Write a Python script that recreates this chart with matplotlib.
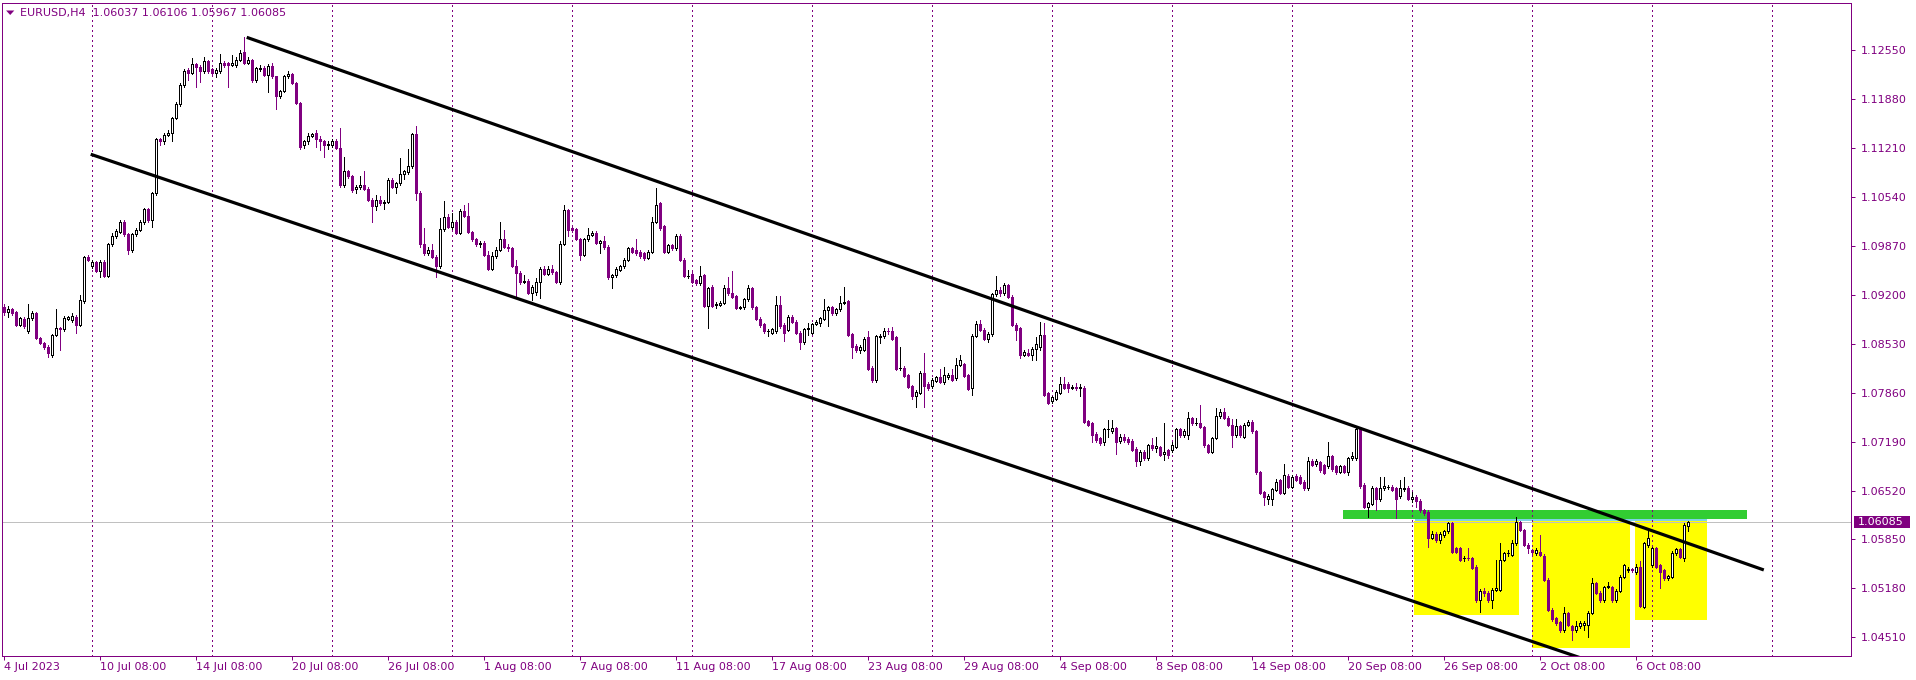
import numpy as np
import matplotlib
matplotlib.use("Agg")
import matplotlib.pyplot as plt
import matplotlib.transforms as mtransforms
from matplotlib.patches import Rectangle, Polygon

plt.rcParams['font.family'] = ['DejaVu Sans']
plt.rcParams['lines.scale_dashes'] = False

# ---------------- data (EURUSD H4, prices as pips above BASE_PRICE) ----------------
BASE_PRICE = 1.04
PIP = 0.0001

opens = [
    503,496,500,496,479,487,471,488,495,461, 454,449,438,465,474,473,487,485,490,479,
    511,572,559,565,553,565,546,589,601,606, 620,603,581,603,609,619,637,622,659,733,
    730,739,741,762,781,807,828,823,836,832, 826,840,829,824,826,838,837,835,835,842,
    853,838,842,814,829,831,821,833,819,792, 799,819,822,810,783,725,730,738,742,733,
    730,725,725,731,721,670,689,682,665,667, 671,665,650,642,650,645,647,677,668,673,
    686,688,696,740,660,590,577,582,572,560, 610,627,613,620,605,635,628,606,596,590,
    591,575,556,573,582,596,586,584,560,550, 538,539,523,524,538,555,549,556,551,538,
    590,636,612,610,597,575,596,602,605,591, 593,586,544,547,554,559,568,584,582,579,
    577,571,579,620,645,614,579,588,584,601, 568,546,549,540,536,547,505,531,506,506,
    509,529,522,518,502,503,514,529,503,487, 480,470,468,470,506,479,472,490,483,468,
    455,473,468,480,481,487,499,503,495,500, 509,511,466,450,444,445,462,420,403,462,
    463,471,471,462,420,420,410,395,381,386, 413,398,395,402,408,400,407,410,406,424,
    425,410,392,464,480,472,459,466,521,526, 522,533,517,479,474,438,440,438,446,448,
    465,385,374,378,386,398,398,393,394,393, 393,347,344,330,324,319,336,333,337,320,
    326,323,320,309,293,305,296,314,310,311, 302,307,307,312,336,328,328,351,344,344,
    339,314,305,324,354,360,352,342,328,340, 326,342,346,333,277,250,240,241,253,266,
    249,272,257,272,270,264,255,293,288,291, 287,285,299,285,278,285,278,296,296,336,
    260,230,234,255,240,255,257,257,255,244, 254,256,241,243,238,225,223,187,193,184,
    191,196,207,173,173,159,160,159,148,102, 115,112,102,116,116,157,166,164,180,209,
    198,178,170,166,168,163,130,89,77,72, 61,84,66,61,66,68,68,85,125,112,
    102,120,120,102,115,134,143,144,140,148, 93,177,150,173,150,143,132,134,166,172,
    159,203.7,
]
highs = [
    507,504,502,498,490,489,508,498,497,462, 455,451,467,500,476,491,491,495,492,520,
    573,574,567,566,567,567,591,604,610,622, 622,604,605,611,622,639,639,661,735,735,
    741,745,764,784,810,829,830,844,838,834, 845,842,831,830,849,840,839,848,845,855,
    873,845,843,832,834,833,836,838,820,801, 821,826,824,812,784,732,741,742,746,737,
    732,730,733,733,748,709,691,684,670,682, 689,667,652,657,655,650,680,680,675,707,
    691,719,742,751,662,611,585,590,574,625, 648,630,632,622,637,643,646,608,598,593,
    593,580,578,585,620,609,590,586,568,552, 547,541,534,543,558,559,560,561,553,593,
    643,638,614,612,598,598,612,607,607,595, 600,588,549,558,561,570,586,586,596,581,
    579,582,627,666,647,616,590,590,603,603, 570,554,551,542,559,549,531,533,510,512,
    534,545,552,520,505,516,534,531,505,489, 482,473,475,518,518,481,492,492,485,470,
    475,481,482,485,490,514,505,505,502,518, 530,513,468,452,451,462,471,422,465,466,
    474,474,476,464,448,422,412,397,389,415, 441,400,406,409,419,421,413,419,433,438,
    427,412,466,484,486,474,469,523,546,530, 536,535,520,481,476,444,446,448,462,483,
    481,387,382,389,408,408,400,396,399,398, 395,349,346,332,326,338,348,349,339,329,
    330,326,322,311,307,307,316,324,326,313, 344,309,318,338,338,336,359,353,351,369,
    341,316,326,365,363,365,354,350,350,342, 344,348,348,335,279,252,247,256,268,268,
    288,274,273,274,273,266,298,295,295,293, 289,319,301,287,287,287,298,305,338,338,
    262,237,258,257,270,270,260,259,257,267, 271,258,250,246,241,227,225,196,195,195,
    198,209,209,175,175,162,173,161,150,117, 118,114,118,157,180,168,170,184,216,211,
    200,180,172,173,191,165,132,91,79,74, 93,86,68,74,73,73,87,132,127,114,
    122,127,122,117,136,152,148,146,152,155, 182,200,175,175,152,145,137,169,174,174,
    207,210.6,
]
lows = [
    492,490,493,477,477,475,468,486,459,452, 446,435,435,463,445,471,485,483,468,477,
    509,566,557,551,545,544,544,587,598,604, 601,576,578,601,607,617,620,613,657,725,
    727,737,730,760,779,805,814,822,805,812, 824,824,820,818,824,832,805,833,832,840,
    836,836,812,812,827,819,797,817,775,790, 797,817,808,781,719,721,727,736,722,718,
    709,720,723,719,668,667,680,661,660,665, 663,648,620,636,643,638,645,666,659,670,
    679,686,694,650,585,574,575,570,545,557, 608,611,610,603,603,626,604,594,587,586,
    573,554,554,571,580,584,580,558,518,535, 536,521,513,520,515,547,547,549,536,535,
    588,600,606,595,568,573,594,600,589,577, 583,542,529,545,552,557,566,577,575,571,
    568,569,577,618,609,577,577,582,582,566, 544,543,536,534,534,503,474,503,502,504,
    507,520,515,500,500,501,512,501,485,476, 468,463,466,468,475,457,470,481,466,446,
    453,465,466,478,477,485,477,493,493,498, 507,463,433,442,441,443,417,401,401,454,
    461,467,458,417,417,407,392,377,367,384, 367,390,393,400,399,398,405,402,403,422,
    407,389,383,462,470,458,455,464,519,518, 520,515,477,458,434,436,436,431,431,444,
    381,370,372,376,384,391,387,391,389,381, 344,340,318,319,315,314,326,331,302,317,
    319,316,306,286,287,294,294,308,305,299, 294,296,305,310,326,326,322,342,342,337,
    312,303,303,322,352,350,340,311,326,326, 324,340,331,275,247,232,234,232,251,247,
    247,255,255,265,261,253,253,285,286,278, 274,283,279,275,276,276,273,294,294,256,
    228,216,232,225,238,253,254,251,214,242, 252,239,236,230,222,218,175,185,182,180,
    189,194,166,166,155,155,157,144,100,86, 108,100,91,114,114,155,163,162,178,196,
    176,166,165,164,162,128,87,74,68,59, 59,66,48,59,64,61,52,83,110,100,
    100,118,100,100,113,132,141,141,138,92, 91,175,148,146,118,130,130,132,164,159,
    155,196.7,
]
closes = [
    496,500,495,479,488,477,488,495,461,454, 449,440,465,474,473,488,489,491,479,513,
    572,568,565,553,565,546,589,601,607,620, 603,581,603,609,619,637,622,659,733,730,
    739,741,762,781,807,827,824,836,832,826, 840,826,824,828,838,835,835,837,842,851,
    838,842,814,830,831,821,833,819,792,799, 819,822,810,783,723,730,738,740,733,730,
    725,727,731,721,670,689,682,663,668,671, 665,650,642,650,645,647,677,668,673,686,
    689,696,740,660,590,577,582,572,560,610, 627,613,620,605,635,628,606,596,590,591,
    575,556,573,582,596,586,584,560,550,538, 539,523,531,538,555,549,556,551,538,590,
    636,609,609,597,575,596,602,604,591,593, 585,545,547,556,559,568,584,579,577,573,
    570,579,620,643,611,579,588,584,601,568, 546,546,538,536,546,505,529,505,508,509,
    529,522,517,502,503,514,529,503,487,478, 470,471,473,506,477,468,490,483,468,455,
    473,474,480,483,488,499,503,495,500,509, 510,465,448,444,448,460,419,403,463,463,
    471,470,460,419,420,409,394,381,387,413, 395,392,403,407,401,410,410,404,424,431,
    409,391,464,480,472,460,467,521,527,522, 533,517,479,472,438,442,438,446,452,465,
    383,372,380,387,398,393,392,394,393,394, 346,342,328,321,317,336,336,337,319,326,
    321,318,308,292,305,296,314,310,313,301, 305,301,315,336,328,334,351,344,344,339,
    314,305,324,354,360,352,342,328,340,328, 342,346,333,277,249,243,245,254,264,249,
    273,257,271,267,263,255,293,287,293,280, 276,299,281,277,285,278,296,299,336,258,
    230,235,255,241,255,258,257,253,241,255, 256,241,243,238,225,221,187,193,184,193,
    196,207,168,168,157,160,159,146,102,115, 112,102,116,118,157,166,167,180,209,198,
    178,173,168,171,164,130,89,76,70,61, 84,68,61,66,71,71,85,125,112,102,
    120,121,102,115,134,150,144,143,147,94, 180,187,173,148,141,132,135,167,172,161,
    205,208.5,
]

# time axis: bar index of labelled ticks and of weekly separators (Monday 00:00)
date_tick_bars = [0, 24, 48, 72, 96, 120, 144, 168, 192, 216, 240, 264, 288, 312, 336, 360, 384, 408]
date_tick_labels = ["4 Jul 2023", "10 Jul 08:00", "14 Jul 08:00", "20 Jul 08:00", "26 Jul 08:00",
                    "1 Aug 08:00", "7 Aug 08:00", "11 Aug 08:00", "17 Aug 08:00", "23 Aug 08:00",
                    "29 Aug 08:00", "4 Sep 08:00", "8 Sep 08:00", "14 Sep 08:00", "20 Sep 08:00",
                    "26 Sep 08:00", "2 Oct 08:00", "6 Oct 08:00"]
week_separator_bars = [22, 52, 82, 112, 142, 172, 202, 232, 262, 292, 322, 352, 382, 412, 442]

price_ticks = [1.12550, 1.11880, 1.11210, 1.10540, 1.09870, 1.09200, 1.08530,
               1.07860, 1.07190, 1.06520, 1.05850, 1.05180, 1.04510]

symbol_title = "EURUSD,H4"
last_bar_ohlc = [1.06037, 1.06106, 1.05967, 1.06085]
bid_price = 1.06085

# drawn objects (bar index, price)
channel_upper = [(60.75, 1.12725), (440.0, 1.05433)]
channel_lower = [(21.75, 1.11124), (400.0, 1.04122)]
green_zone = [(334.8, 1.06126), (435.9, 1.06259)]
blue_strip = [(352.8, 1.06104), (425.8, 1.06140)]
yellow_zones = [
    [(352.6, 1.04818), (378.8, 1.06106)],
    [(382.1, 1.04365), (406.6, 1.06106)],
    [(407.8, 1.04754), (425.8, 1.06106)],
]

# ---------------- style ----------------
PURPLE = '#800080'
GREEN = '#32CD32'
YELLOW = '#FFFF00'
LIGHTBLUE = '#7FD4E6'
PX = 0.72  # one pixel in points at dpi 100

W, H = 1916, 680
fig = plt.figure(figsize=(W / 100, H / 100), dpi=100)
fig.patch.set_facecolor('white')
L_px, R_px, T_px, B_px = 2.4, 1851, 2.7, 656
ax = fig.add_axes([L_px / W, 1 - B_px / H, (R_px - L_px) / W, (B_px - T_px) / H])
ax.set_facecolor('white')
ax.set_xlim(-0.33, 461.8)
ax.set_ylim(1.04255, 1.13199)

for s in ax.spines.values():
    s.set_color(PURPLE)
    s.set_linewidth(PX)

o = BASE_PRICE + np.array(opens, float) * PIP
h = BASE_PRICE + np.array(highs, float) * PIP
l = BASE_PRICE + np.array(lows, float) * PIP
c = BASE_PRICE + np.array(closes, float) * PIP
x = np.arange(len(c))
bull = c >= o

# zones (background objects)
for (x0, y0), (x1, y1) in yellow_zones:
    ax.add_patch(Rectangle((x0, y0), x1 - x0, y1 - y0, facecolor=YELLOW, edgecolor='none', zorder=1))
(gx0, gy0), (gx1, gy1) = green_zone
ax.add_patch(Rectangle((gx0, gy0), gx1 - gx0, gy1 - gy0, facecolor=GREEN, edgecolor='none', zorder=1.2))
(bx0, by0), (bx1, by1) = blue_strip
ax.add_patch(Rectangle((bx0, by0), bx1 - bx0, by1 - by0, facecolor=LIGHTBLUE, edgecolor='none', zorder=1.1))

# weekly separators (dotted)
for k in week_separator_bars:
    ax.axvline(k, color=PURPLE, lw=PX, dashes=(1.44, 2.16), zorder=2, antialiased=False)

# bid line
ax.axhline(bid_price, color='#C0C0C0', lw=PX, zorder=2)

# candles
ax.vlines(x[bull], l[bull], h[bull], colors='black', lw=PX, zorder=4, antialiased=False)
ax.vlines(x[~bull], l[~bull], h[~bull], colors=PURPLE, lw=PX, zorder=4, antialiased=False)
bot = np.minimum(o, c)
hgt = np.abs(c - o)
ax.bar(x[bull], hgt[bull], bottom=bot[bull], width=0.5, facecolor='white', edgecolor='black',
       linewidth=PX, zorder=5, antialiased=False)
ax.bar(x[~bull], hgt[~bull], bottom=bot[~bull], width=0.5, facecolor=PURPLE, edgecolor=PURPLE,
       linewidth=PX, zorder=5, antialiased=False)

# channel lines
for line in (channel_upper, channel_lower):
    (lx0, ly0), (lx1, ly1) = line
    ax.plot([lx0, lx1], [ly0, ly1], color='black', lw=2.3, solid_capstyle='butt', zorder=6)

# axes ticks
ax.yaxis.tick_right()
ax.set_yticks(price_ticks)
ax.set_yticklabels([f"{p:.5f}" for p in price_ticks])
ax.tick_params(axis='y', direction='out', length=3, width=PX, colors=PURPLE, labelsize=8, pad=4)
ax.set_xticks(date_tick_bars)
ax.set_xticklabels(date_tick_labels, ha='left')
ax.tick_params(axis='x', direction='out', length=3, width=PX, colors=PURPLE, labelsize=8, pad=1.5)

# current price label
bt = mtransforms.blended_transform_factory(fig.transFigure, ax.transData)
box_h = 12 / 7304.0
ax.add_patch(Rectangle((1853.6 / W, bid_price - box_h / 2), 56 / W, box_h, transform=bt,
                       facecolor=PURPLE, edgecolor='none', clip_on=False, zorder=10))
ax.text(1857.5 / W, bid_price, f"{bid_price:.5f}", transform=bt, color='white', fontsize=8,
        va='center', ha='left', zorder=11, clip_on=False)

# title
fig.text(20.4 / W, 1 - 12.7 / H,
         symbol_title + "  " + " ".join(f"{v:.5f}" for v in last_bar_ohlc),
         color=PURPLE, fontsize=8, va='center', ha='left')
tri = Polygon([(6.1 / W, 1 - 10.5 / H), (14.3 / W, 1 - 10.5 / H), (10.2 / W, 1 - 15 / H)],
              closed=True, transform=fig.transFigure, facecolor=PURPLE, edgecolor='none')
fig.add_artist(tri)

fig.savefig('out.png', dpi=100, facecolor='white')
